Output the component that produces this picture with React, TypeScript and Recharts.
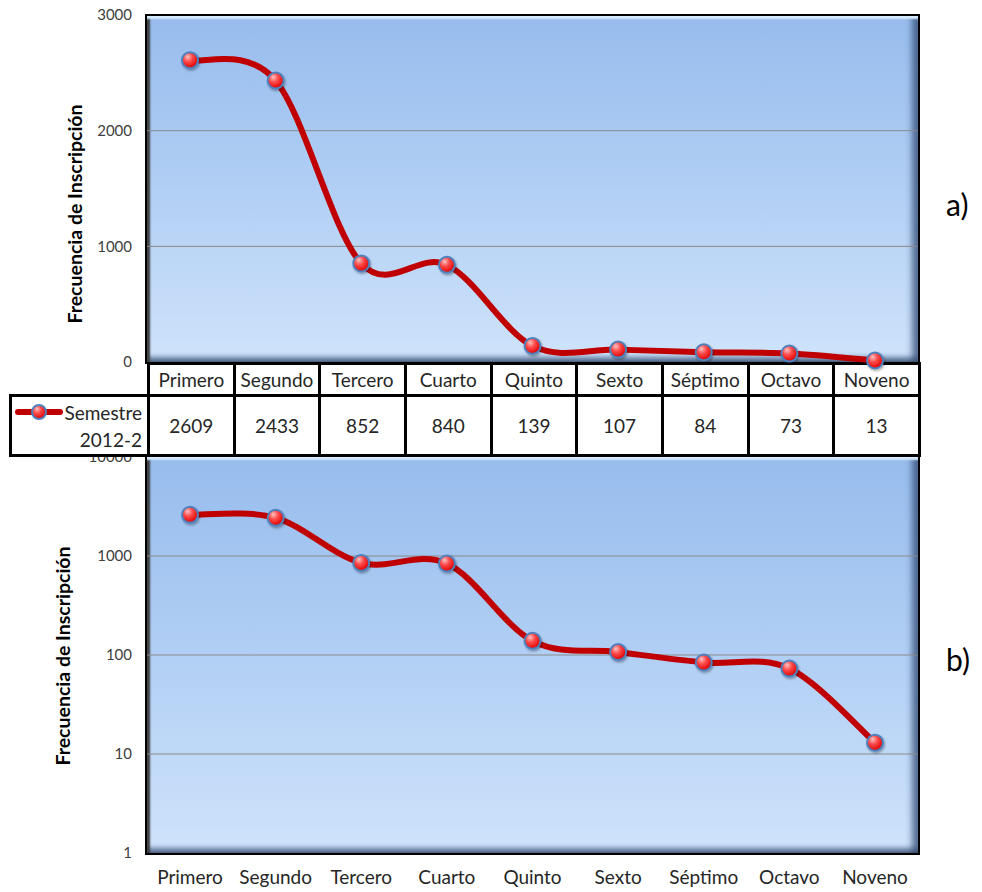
import React from "react";
import { LineChart, Line, XAxis, YAxis, ReferenceLine } from "recharts";

const categories = ["Primero", "Segundo", "Tercero", "Cuarto", "Quinto", "Sexto", "Séptimo", "Octavo", "Noveno"];
const inscritos = [2609, 2433, 852, 840, 139, 107, 84, 73, 13];
const linearTicks = [0, 1000, 2000, 3000];
const logTicks = [1, 10, 100, 1000, 10000];
const seriesName = ["Semestre", "2012-2"];
const axisTitle = "Frecuencia de Inscripción";
const panelLetters = ["a)", "b)"];

const data = categories.map((semestre, i) => ({ semestre, inscritos: inscritos[i] }));

const FONT = "Lato, 'Open Sans', sans-serif";
const LINE_RED = "#c00000";
// half of one category band, so points sit in the middle of each column
const HALF_BAND = 43;

// Excel-style smoothed line: Catmull-Rom segments written as cubic beziers
function excelSmooth(context: any) {
  let pts: number[][] = [];
  return {
    areaStart() {},
    areaEnd() {},
    lineStart() {
      pts = [];
    },
    point(x: number, y: number) {
      pts.push([+x, +y]);
    },
    lineEnd() {
      const n = pts.length;
      if (!n) return;
      context.moveTo(pts[0][0], pts[0][1]);
      for (let i = 0; i < n - 1; i++) {
        const p0 = pts[Math.max(i - 1, 0)];
        const p1 = pts[i];
        const p2 = pts[i + 1];
        const p3 = pts[Math.min(i + 2, n - 1)];
        context.bezierCurveTo(
          p1[0] + (p2[0] - p0[0]) / 6,
          p1[1] + (p2[1] - p0[1]) / 6,
          p2[0] - (p3[0] - p1[0]) / 6,
          p2[1] - (p3[1] - p1[1]) / 6,
          p2[0],
          p2[1]
        );
      }
    },
  };
}

const Marker = (props: any) => {
  const { cx, cy, index } = props;
  if (cx == null || cy == null) return <g key={index} />;
  return (
    <circle
      key={index}
      cx={cx}
      cy={cy}
      r={8}
      fill="url(#markerFill)"
      stroke="#4f81bd"
      strokeWidth={2}
      filter="url(#markerShadow)"
    />
  );
};

const SharedDefs = () => (
  <svg width={0} height={0} style={{ position: "absolute" }}>
    <defs>
      <radialGradient id="markerFill" cx="40%" cy="35%" r="65%" fx="35%" fy="28%">
        <stop offset="0%" stopColor="#ffc4c4" />
        <stop offset="45%" stopColor="#ff4a4a" />
        <stop offset="100%" stopColor="#dc0000" />
      </radialGradient>
      <filter id="markerShadow" x="-50%" y="-50%" width="200%" height="200%">
        <feDropShadow dx="1" dy="1.5" stdDeviation="1" floodColor="#000" floodOpacity="0.35" />
      </filter>
    </defs>
  </svg>
);

// bevelled blue plot background
const PlotFrame = ({ left, top, width, height }: any) => (
  <div
    style={{
      position: "absolute",
      left,
      top,
      width,
      height,
      boxSizing: "border-box",
      border: "2px solid #000",
      background: "linear-gradient(to bottom, #97bced 0%, #b4d1f5 55%, #cfe3fb 100%)",
      boxShadow:
        "inset 0 4px 2px -1px #d6ebff, inset 3px 0 2px #3c3c3c, inset -8px 0 6px -2px rgba(50,75,115,0.75), inset 0 -7px 5px -2px rgba(50,75,115,0.7)",
    }}
  />
);

const AxisTitle = ({ x, y }: any) => (
  <div
    style={{
      position: "absolute",
      left: x,
      top: y,
      transform: "translate(-50%, -50%) rotate(-90deg)",
      whiteSpace: "nowrap",
      fontFamily: FONT,
      fontWeight: 700,
      fontSize: 19.5,
      color: "#000",
    }}
  >
    {axisTitle}
  </div>
);

const tickStyle = { fontFamily: FONT, fontSize: 15, fill: "#404040" };

const cell: React.CSSProperties = {
  border: "3px solid #000",
  textAlign: "center",
  padding: 0,
  fontFamily: FONT,
  fontSize: 19,
  color: "#262626",
  background: "#fff",
};

const DataTable = () => (
  <table
    style={{
      position: "absolute",
      left: 9,
      top: 362,
      width: 912,
      borderCollapse: "collapse",
      tableLayout: "fixed",
    }}
  >
    <colgroup>
      <col style={{ width: 138 }} />
      {categories.map((c) => (
        <col key={c} />
      ))}
    </colgroup>
    <tbody>
      <tr style={{ height: 32 }}>
        <td style={{ border: "none", padding: 0 }} />
        {categories.map((c) => (
          <td key={c} style={cell}>
            {c}
          </td>
        ))}
      </tr>
      <tr style={{ height: 60 }}>
        <td
          style={{
            ...cell,
            textAlign: "right",
            verticalAlign: "top",
            position: "relative",
            paddingRight: 5,
            paddingTop: 2,
            lineHeight: "27px",
          }}
        >
          <svg width={52} height={16} style={{ position: "absolute", left: 2, top: 7 }}>
            <line x1={4} y1={8} x2={46} y2={8} stroke={LINE_RED} strokeWidth={6} strokeLinecap="round" />
            <circle cx={25} cy={8} r={7} fill="url(#markerFill)" stroke="#4f81bd" strokeWidth={2} />
          </svg>
          {seriesName[0]}
          <br />
          {seriesName[1]}
        </td>
        {inscritos.map((v, i) => (
          <td key={categories[i]} style={cell}>
            {v}
          </td>
        ))}
      </tr>
    </tbody>
  </table>
);

const Letter = ({ text, y }: any) => (
  <div
    style={{
      position: "absolute",
      left: 946,
      top: y,
      fontFamily: FONT,
      fontSize: 30,
      color: "#000",
      lineHeight: "32px",
    }}
  >
    {text}
  </div>
);

export default function App() {
  return (
    <div style={{ position: "absolute", left: 0, top: 0, width: 982, height: 892, background: "#fff", overflow: "hidden" }}>
      <SharedDefs />

      <PlotFrame left={145} top={14} width={775} height={350} />
      <PlotFrame left={145} top={455} width={775} height={400} />

      {/* b) logarithmic scale, sits under the data table */}
      <div style={{ position: "absolute", left: 0, top: 440 }}>
        <LineChart width={982} height={452} data={data} margin={{ top: 17, right: 64, bottom: 9, left: 87 }}>
          <XAxis
            dataKey="semestre"
            height={30}
            interval={0}
            padding={{ left: HALF_BAND, right: HALF_BAND }}
            axisLine={false}
            tickLine={false}
            tickSize={0}
            tickMargin={18}
            tick={{ fontFamily: FONT, fontSize: 19, fill: "#262626" }}
          />
          <YAxis
            width={60}
            scale="log"
            type="number"
            domain={[1, 10000]}
            ticks={logTicks}
            interval={0}
            axisLine={false}
            tickLine={false}
            tickSize={0}
            tickMargin={15}
            tick={tickStyle}
          />
          {logTicks.slice(1, -1).map((t) => (
            <ReferenceLine key={t} y={t} stroke="#8a8a8a" strokeWidth={1} />
          ))}
          <Line
            dataKey="inscritos"
            type={excelSmooth as any}
            stroke={LINE_RED}
            strokeWidth={6}
            dot={Marker}
            activeDot={false}
            isAnimationActive={false}
          />
        </LineChart>
      </div>

      <DataTable />

      {/* a) linear scale, markers drawn over the table edge */}
      <div style={{ position: "absolute", left: 0, top: 0 }}>
        <LineChart width={982} height={380} data={data} margin={{ top: 15, right: 64, bottom: 18, left: 87 }}>
          <XAxis dataKey="semestre" hide padding={{ left: HALF_BAND, right: HALF_BAND }} />
          <YAxis
            width={60}
            domain={[0, 3000]}
            ticks={linearTicks}
            interval={0}
            axisLine={false}
            tickLine={false}
            tickSize={0}
            tickMargin={15}
            tick={tickStyle}
          />
          {linearTicks.slice(1, -1).map((t) => (
            <ReferenceLine key={t} y={t} stroke="#8a8a8a" strokeWidth={1} />
          ))}
          <Line
            dataKey="inscritos"
            type={excelSmooth as any}
            stroke={LINE_RED}
            strokeWidth={6}
            dot={Marker}
            activeDot={false}
            isAnimationActive={false}
          />
        </LineChart>
      </div>

      <AxisTitle x={74} y={214} />
      <AxisTitle x={62} y={656} />

      <Letter text={panelLetters[0]} y={188} />
      <Letter text={panelLetters[1]} y={643} />
    </div>
  );
}
